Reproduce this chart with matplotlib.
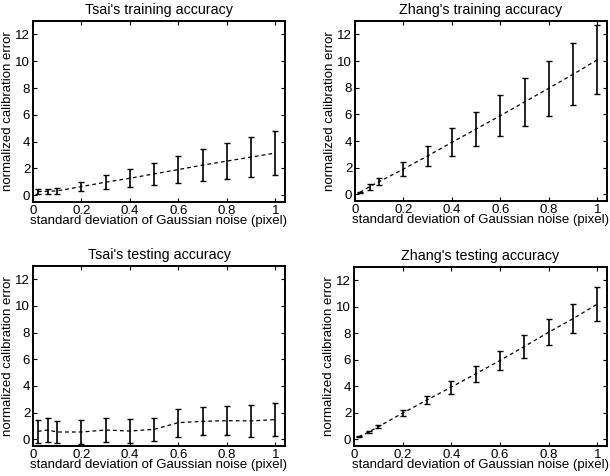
import matplotlib
matplotlib.use("Agg")
import matplotlib.pyplot as plt
import numpy as np

plt.rcParams['font.family'] = ['Liberation Sans', 'DejaVu Sans']

noise = [0.02, 0.06, 0.1, 0.2, 0.3, 0.4, 0.5, 0.6, 0.7, 0.8, 0.9, 1.0]

tsai_train_mean = [0.28, 0.30, 0.33, 0.65, 0.98, 1.27, 1.60, 1.92, 2.25, 2.55, 2.85, 3.15]
tsai_train_err = [0.18, 0.19, 0.21, 0.36, 0.52, 0.67, 0.83, 1.00, 1.18, 1.33, 1.48, 1.63]

zhang_train_mean = [0.15, 0.57, 0.95, 1.90, 2.88, 3.90, 4.90, 5.90, 6.93, 7.96, 9.00, 10.09]
zhang_train_err = [0.05, 0.22, 0.28, 0.52, 0.78, 1.05, 1.27, 1.53, 1.80, 2.06, 2.33, 2.60]

tsai_test_mean = [0.60, 0.70, 0.55, 0.55, 0.70, 0.62, 0.75, 1.25, 1.35, 1.40, 1.38, 1.48]
tsai_test_err = [0.85, 0.87, 0.83, 0.88, 0.87, 0.90, 0.88, 1.05, 1.06, 1.10, 1.17, 1.22]

zhang_test_mean = [0.20, 0.55, 0.95, 1.98, 2.97, 3.94, 4.94, 5.95, 7.00, 8.08, 9.10, 10.20]
zhang_test_err = [0.04, 0.08, 0.12, 0.22, 0.33, 0.49, 0.61, 0.75, 0.87, 1.00, 1.11, 1.27]

titles = ["Tsai's training accuracy", "Zhang's training accuracy",
          "Tsai's testing accuracy", "Zhang's testing accuracy"]
xticks = [0, 0.2, 0.4, 0.6, 0.8, 1]
xticklabels = ["0", "0.2", "0.4", "0.6", "0.8", "1"]
yticks = [0, 2, 4, 6, 8, 10, 12]

W, H = 610, 476
fig = plt.figure(figsize=(W / 100, H / 100), dpi=100)

boxes = [(33, 285, 21, 202), (355, 607, 21, 201), (33, 285, 266, 446), (354, 607, 267, 446)]
series = [(tsai_train_mean, tsai_train_err), (zhang_train_mean, zhang_train_err),
          (tsai_test_mean, tsai_test_err), (zhang_test_mean, zhang_test_err)]

fs = 9.5
for (l, r, t, b), (m, e), title in zip(boxes, series, titles):
    ax = fig.add_axes([l / W, 1 - b / H, (r - l) / W, (b - t) / H])
    ax.errorbar(noise, m, yerr=e, fmt='none', ecolor='black', elinewidth=1.2,
                capsize=2.5, capthick=1.0)
    ax.plot(noise, m, linestyle=(0, (3, 2.5)), color='black', linewidth=0.9)
    ax.set_xlim(0, 1.04)
    ax.set_ylim(-0.5, 13)
    ax.set_xticks(xticks)
    ax.set_xticklabels(xticklabels)
    ax.set_yticks(yticks)
    ax.tick_params(direction='in', top=True, right=True, length=3, width=0.8,
                   labelsize=fs, pad=2)
    for s in ax.spines.values():
        s.set_linewidth(1.4)
    ax.set_title(title, fontsize=fs + 0.8, pad=5)
    ax.set_xlabel("standard deviation of Gaussian noise (pixel)", fontsize=fs, labelpad=-1)
    ax.set_ylabel("normalized calibration error", fontsize=fs, labelpad=1)

fig.savefig("out.png", dpi=100)
